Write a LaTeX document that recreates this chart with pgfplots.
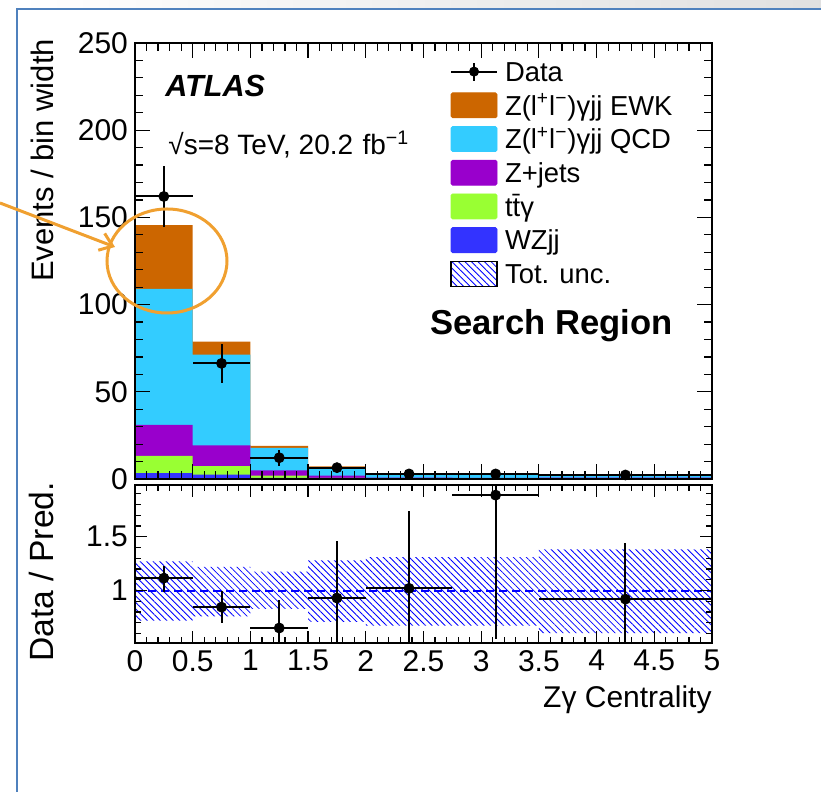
\documentclass[border=0pt]{standalone}
\usepackage{fontspec}
\setmainfont{Liberation Sans}
\usepackage{pgfplots}
\usepackage{pgfplotstable}
\pgfplotsset{compat=1.18}
\usetikzlibrary{patterns.meta,arrows.meta}
\definecolor{cEWK}{RGB}{204,102,0}
\definecolor{cQCD}{RGB}{51,204,255}
\definecolor{cZj}{RGB}{153,0,204}
\definecolor{cTT}{RGB}{153,255,51}
\definecolor{cWZ}{RGB}{51,51,255}
\definecolor{cHatch}{RGB}{0,0,255}
\definecolor{annot}{RGB}{240,160,48}
\definecolor{frameblue}{RGB}{79,129,189}

% stacked (cumulative) predictions per bin, left bin edges
\pgfplotstableread{
xl   wz   tt   zj   qcd   ewk
0    3.3  13.2 31   109   145.5
0.5  2.5  7.4  19.3 71.3  78.7
1    0.6  1.9  5.0  17.8  19.0
1.5  0.3  0.6  2.0  6.7   7.2
2    0.2  0.3  0.8  2.5   2.8
2.75 0.2  0.3  0.7  2.3   2.6
3.5  0.3  0.4  0.8  1.8   2.0
5    0.3  0.4  0.8  1.8   2.0
}\stacks

\pgfplotstableread{
x     y     ex    ep    em
0.25  162   0.25  17.5  17.5
0.75  66.3  0.25  11.2  11.4
1.25  12.2  0.25  4.5   4.6
1.75  6.5   0.25  2.6   2.6
2.375 2.9   0.375 1.4   1.4
3.125 2.9   0.375 1.4   1.4
4.25  2.3   0.75  0.7   0.7
}\datamain

\pgfplotstableread{
x     y     ex    ep    em
0.25  1.115 0.25  0.115 0.125
0.75  0.846 0.25  0.145 0.146
1.25  0.652 0.25  0.262 0.262
1.75  0.93  0.25  0.53  0.53
2.375 1.02  0.375 0.72  0.72
3.125 1.886 0.375 1.336 1.336
4.25  0.92  0.75  0.525 0.525
}\dataratio

\tikzset{hatchstyle/.style={pattern={Lines[angle=-45,distance=2.3pt,line width=0.42pt]}, pattern color=cHatch}}
\pgfplotsset{
  boxleg/.style={legend image code/.code={\fill[##1, rounded corners=0.8pt] (0pt,-6.25pt) rectangle (23pt,6.25pt);}},
}

\begin{document}
\begin{tikzpicture}
\useasboundingbox (0,0) rectangle (410.5pt,396pt);
\shade[left color=white, right color=black!12] (8.5pt,391.5pt) rectangle (410.5pt,396pt);
\draw[frameblue, line width=0.8pt] (8.5pt,0) -- (8.5pt,391.5pt) -- (410.5pt,391.5pt);

\begin{axis}[
  name=main,
  at={(67.5pt,156.5pt)}, anchor=south west,
  scale only axis, width=288.5pt, height=218pt,
  xmin=0, xmax=5, ymin=0, ymax=250,
  xtick distance=0.5, minor x tick num=4,
  ytick distance=50, minor y tick num=4,
  xticklabels={},
  tick align=inside,
  major tick length=7.5pt, minor tick length=3.8pt,
  tick style={black, line width=0.6pt},
  axis line style={line width=1pt},
  axis on top,
  ticklabel style={font=\fontsize{15}{18}\selectfont},
  /pgf/number format/assume math mode=true,
  ylabel={Events / bin width},
  ylabel style={at={(axis description cs:-0.1416,1.01)}, anchor=base east, font=\fontsize{15.5}{18}\selectfont, inner sep=0pt},
  legend style={draw=none, fill=none, at={(0.546,0.973)}, anchor=north west,
    inner sep=0pt, outer sep=0pt, row sep=0pt, column sep=3.5pt,
    font=\fontsize{13.7}{16.85}\selectfont,
    nodes={inner sep=0pt, text height=13.3pt, text depth=3.55pt}},
  legend cell align=left,
]
\addlegendimage{legend image code/.code={
  \draw[black,line width=1pt] (0pt,0pt)--(23pt,0pt);
  \draw[black,line width=1pt] (11.5pt,-4.5pt)--(11.5pt,4.5pt);
  \fill[black] (11.5pt,0pt) circle (2.3pt);}}
\addlegendentry{Data}
\addlegendimage{boxleg, cEWK}
\addlegendentry{Z(l\textsuperscript{+}l\textsuperscript{−})γjj EWK}
\addlegendimage{boxleg, cQCD}
\addlegendentry{Z(l\textsuperscript{+}l\textsuperscript{−})γjj QCD}
\addlegendimage{boxleg, cZj}
\addlegendentry{Z+jets}
\addlegendimage{boxleg, cTT}
\addlegendentry{t\={t}γ}
\addlegendimage{boxleg, cWZ}
\addlegendentry{WZjj}
\addlegendimage{legend image code/.code={\draw[black,line width=0.8pt,hatchstyle] (0pt,-6.25pt) rectangle (23pt,6.25pt);}}
\addlegendentry{Tot. unc.}

\addplot[forget plot, const plot mark left, fill=cEWK, draw=none] table[x=xl,y=ewk]{\stacks} \closedcycle;
\addplot[forget plot, const plot mark left, fill=cQCD, draw=none] table[x=xl,y=qcd]{\stacks} \closedcycle;
\addplot[forget plot, const plot mark left, fill=cZj, draw=none] table[x=xl,y=zj]{\stacks} \closedcycle;
\addplot[forget plot, const plot mark left, fill=cTT, draw=none] table[x=xl,y=tt]{\stacks} \closedcycle;
\addplot[forget plot, const plot mark left, fill=cWZ, draw=none] table[x=xl,y=wz]{\stacks} \closedcycle;

\addplot[forget plot, only marks, mark=*, mark size=2.5pt, black, mark options={fill=black},
  error bars/.cd, x dir=both, x explicit, y dir=both, y explicit, error mark=none,
  error bar style={line width=1pt, black}]
  table[x=x, y=y, x error=ex, y error plus=ep, y error minus=em]{\datamain};

\node[anchor=base west, inner sep=0pt, font=\fontsize{15.3}{18}\selectfont\bfseries\itshape] at (axis cs:0.26,219.6) {ATLAS};
\node[anchor=base west, inner sep=0pt, font=\fontsize{14}{17}\selectfont] at (axis cs:0.286,185.8) {√s=8 TeV, 20.2\,\,fb\textsuperscript{−1}};
\node[anchor=base west, inner sep=0pt, font=\fontsize{17.3}{20}\selectfont\bfseries] at (axis cs:2.556,83.1) {Search Region};
\end{axis}

\begin{axis}[
  at={(67.5pt,74.35pt)}, anchor=south west,
  scale only axis, width=288.5pt, height=79.15pt,
  xmin=0, xmax=5, ymin=0.51, ymax=1.98,
  xtick distance=0.5, minor x tick num=4,
  ytick={1,1.5},
  minor ytick={0.6,0.7,0.8,0.9,1.1,1.2,1.3,1.4,1.6,1.7,1.8,1.9},
  tick align=inside,
  major tick length=6pt, minor tick length=3pt,
  tick style={black, line width=0.6pt},
  axis line style={line width=1pt},
  axis on top,
  ticklabel style={font=\fontsize{15}{18}\selectfont},
  /pgf/number format/assume math mode=true,
  xlabel={Zγ Centrality},
  xlabel style={at={(rel axis cs:1,0)}, anchor=base east, yshift=-32.25pt, inner sep=0pt, font=\fontsize{15}{18}\selectfont},
  ylabel={Data / Pred.},
  ylabel style={at={(axis description cs:-0.1416,1.02)}, anchor=base east, font=\fontsize{16.8}{20}\selectfont, inner sep=0pt},
]
\addplot[draw=none, hatchstyle] coordinates {
 (0,1.27) (0.5,1.27) (0.5,1.22) (1,1.22) (1,1.176) (1.5,1.176) (1.5,1.28) (2,1.28)
 (2,1.31) (3.5,1.31) (3.5,1.383) (5,1.383)
 (5,0.605) (3.5,0.605) (3.5,0.675) (2,0.675) (2,0.71) (1.5,0.71) (1.5,0.83) (1,0.83)
 (1,0.76) (0.5,0.76) (0.5,0.72) (0,0.72)} -- cycle;
\addplot[cHatch, line width=1pt, dash pattern=on 4pt off 2.5pt] coordinates {(0,1) (5,1)};
\addplot[only marks, mark=*, mark size=2.5pt, black, mark options={fill=black},
  error bars/.cd, x dir=both, x explicit, y dir=both, y explicit, error mark=none,
  error bar style={line width=1pt, black}]
  table[x=x, y=y, x error=ex, y error plus=ep, y error minus=em]{\dataratio};
\end{axis}

\draw[annot, line width=1.5pt] (83.5pt,265.5pt) ellipse [x radius=30pt, y radius=26pt];
\draw[annot, line width=1.5pt, -{Straight Barb[length=6pt,width=9pt,line width=1.5pt]}] (0pt,294.5pt) -- (57.5pt,272.5pt);
\end{tikzpicture}
\end{document}
